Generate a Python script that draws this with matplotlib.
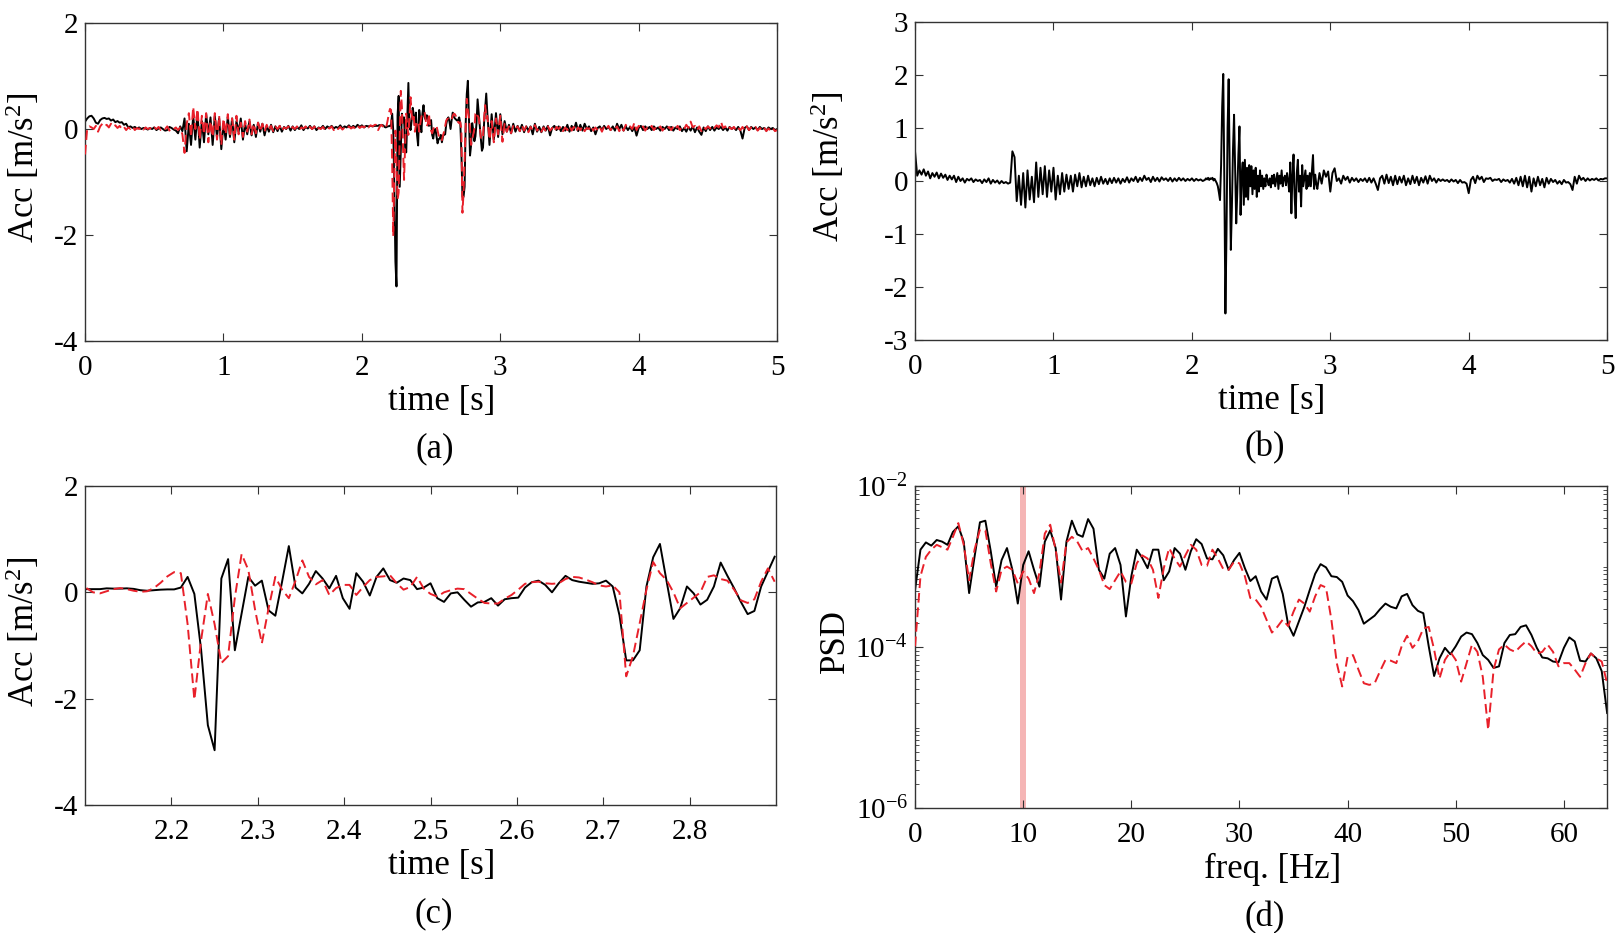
import matplotlib

matplotlib.use("Agg")

import matplotlib.pyplot as plt
import numpy as np
from matplotlib.ticker import FixedLocator, LogLocator, NullFormatter

FS_COARSE = 64
FS_FINE = 128
WIN_START = 269  # first 128 Hz sample shown in panel (c)
POST_START = 186  # first 64 Hz sample after the zoom window

# panel (a)/(c): measured (black) vs. reconstructed (red) acceleration, t < 2.1 s
acc_meas_pre = [
    0.14, 0.2, 0.24, 0.25, 0.2, 0.12, 0.1, 0.17, 0.2, 0.21,
    0.19, 0.2, 0.16, 0.18, 0.13, 0.15, 0.12, 0.13, 0.08, 0.1,
    0.03, 0.05, 0.02, 0.04, 0.01, 0.03, 0.0, 0.02, 0.01, -0.01,
    0.02, 0.0, 0.03, -0.02, 0.01, 0.03, 0.0, -0.03, -0.02, 0.04,
    0.02, -0.01, -0.03, -0.08, 0.05, -0.04, 0.2, -0.42, 0.1, -0.3,
    0.25, -0.2, 0.3, -0.35, 0.15, -0.25, 0.28, -0.1, 0.22, -0.3,
    0.25, -0.15, 0.2, -0.38, 0.1, -0.2, 0.23, -0.15, 0.2, -0.25,
    0.15, -0.05, 0.2, -0.2, 0.1, -0.1, 0.15, -0.12, 0.08, -0.15,
    0.12, -0.05, 0.1, -0.12, 0.06, -0.05, 0.08, -0.06, 0.05, -0.04,
    0.06, -0.05, 0.04, 0.0, 0.06, -0.03, 0.05, -0.02, 0.04, 0.0,
    0.07, -0.02, 0.04, 0.01, 0.06, 0.0, 0.05, -0.02, 0.03, 0.01,
    0.06, 0.0, 0.05, 0.02, 0.06, 0.01, 0.04, 0.02, 0.07, 0.01,
    0.05, 0.03, 0.07, 0.02, 0.06, 0.03, 0.08, 0.04, 0.07, 0.03,
    0.06, 0.05, 0.06, 0.05, 0.06,
]
acc_rec_pre = [
    -0.48, 0.02, 0.05, 0.03, 0.0, 0.06, -0.05, 0.05, 0.1, 0.05,
    0.08, 0.03, 0.1, 0.04, 0.07, 0.02, 0.06, 0.0, 0.04, -0.02,
    0.03, 0.0, 0.05, -0.02, 0.02, 0.0, 0.04, -0.01, 0.03, 0.0,
    0.02, -0.02, 0.03, 0.0, 0.04, -0.02, 0.02, 0.0, 0.05, -0.03,
    0.02, 0.0, 0.03, -0.02, 0.03, -0.1, -0.45, 0.1, 0.3, -0.15,
    0.42, 0.0, 0.38, -0.2, 0.25, -0.1, 0.3, -0.25, 0.15, -0.15,
    0.3, -0.2, 0.25, -0.3, 0.2, -0.1, 0.28, -0.15, 0.2, -0.2,
    0.25, -0.1, 0.12, -0.15, 0.15, -0.05, 0.18, -0.1, 0.1, -0.08,
    0.12, -0.05, 0.1, -0.05, 0.08, -0.03, 0.06, -0.04, 0.05, 0.0,
    0.06, -0.04, 0.03, 0.01, 0.05, -0.02, 0.04, 0.0, 0.05, -0.03,
    0.03, 0.01, 0.05, -0.02, 0.04, 0.0, 0.05, -0.03, 0.02, 0.0,
    0.04, -0.02, 0.03, 0.01, 0.05, -0.02, 0.03, 0.0, 0.04, -0.01,
    0.03, 0.0, 0.05, 0.01, 0.04, 0.0, 0.06, 0.02, 0.05, 0.03,
    0.08, 0.03, 0.07, 0.05, 0.08,
]

# 2.1 s - 2.9 s at full rate (shared by panels (a) and (c))
acc_meas_win = [
    0.06, 0.06, 0.06, 0.075, 0.07, 0.07, 0.075, 0.065, 0.04, 0.03,
    0.04, 0.05, 0.055, 0.055, 0.09, 0.29, -0.03, -1.08, -2.5, -2.97,
    0.26, 0.625, -1.09, -0.4, 0.29, 0.125, 0.22, -0.34, -0.44, 0.2,
    0.87, 0.09, -0.02, 0.16, 0.4, 0.26, 0.075, 0.31, -0.11, -0.31,
    0.36, 0.2, -0.06, 0.29, 0.45, 0.23, 0.18, 0.26, 0.23, 0.06,
    0.09, 0.17, -0.11, -0.18, -0.02, 0.0, -0.14, -0.27, -0.19, -0.18,
    -0.11, -0.25, -0.13, -0.11, -0.1, 0.09, 0.19, 0.22, 0.14, 0.0,
    0.17, 0.31, 0.23, 0.2, 0.18, 0.16, 0.17, 0.22, 0.11, -0.43,
    -1.28, -1.28, -1.09, 0.11, 0.66, 0.91, 0.2, -0.5, -0.3, 0.11,
    -0.02, -0.23, -0.14, 0.11, 0.56, 0.31, 0.075, -0.18, -0.41, -0.35,
    0.11, 0.39, 0.67,
]
acc_rec_win = [
    0.08, 0.0, -0.02, 0.02, 0.06, 0.08, 0.06, 0.03, 0.01, 0.02,
    0.08, 0.18, 0.3, 0.38, 0.36, -0.6, -2.02, -0.9, -0.03, -0.6,
    -1.33, -1.2, -0.1, 0.72, 0.42, -0.33, -0.96, -0.3, 0.29, 0.05,
    -0.11, 0.22, 0.6, 0.29, 0.15, 0.23, -0.05, 0.08, 0.14, 0.14,
    -0.05, 0.1, 0.23, 0.29, 0.3, 0.32, 0.17, 0.05, 0.1, 0.29,
    0.07, -0.03, -0.08, 0.0, 0.04, 0.07, 0.06, -0.03, -0.12, -0.2,
    -0.21, -0.21, -0.12, -0.05, 0.05, 0.16, 0.19, 0.2, 0.17, 0.16,
    0.17, 0.25, 0.29, 0.28, 0.24, 0.19, 0.13, 0.11, 0.13, 0.0,
    -1.58, -1.2, -0.58, 0.05, 0.57, 0.36, 0.23, 0.0, -0.3, -0.2,
    -0.1, 0.0, 0.29, 0.32, 0.25, 0.22, 0.05, -0.15, -0.2, -0.13,
    0.2, 0.45, 0.2,
]

acc_meas_post = [
    0.3, -0.3, 0.28, -0.2, 0.3, -0.15, 0.28, -0.1, 0.15, -0.05,
    0.08, -0.08, 0.1, -0.05, 0.06, -0.04, 0.08, -0.06, 0.05, -0.03,
    0.05, -0.1, 0.1, -0.05, 0.04, -0.06, 0.05, -0.03, 0.06, -0.12,
    0.02, 0.06, -0.02, 0.05, -0.04, 0.04, -0.03, 0.08, -0.05, 0.06,
    -0.02, 0.12, -0.04, 0.08, -0.03, 0.1, 0.0, 0.05, -0.04, 0.03,
    -0.1, 0.02, 0.05, -0.02, 0.06, 0.0, 0.04, -0.02, 0.05, -0.03,
    0.1, 0.0, 0.08, -0.03, 0.05, -0.02, 0.04, -0.04, 0.03, -0.125,
    0.02, 0.06, -0.02, 0.05, 0.0, 0.04, -0.02, 0.05, 0.0, 0.03,
    -0.03, 0.04, 0.0, 0.05, -0.02, 0.04, -0.03, 0.03, 0.0, 0.05,
    -0.04, 0.02, -0.05, 0.04, -0.03, 0.05, -0.06, 0.03, -0.05, -0.11,
    0.03, -0.04, 0.05, -0.02, 0.04, -0.03, 0.03, 0.0, 0.04, -0.02,
    0.03, -0.03, 0.04, 0.0, 0.03, -0.02, 0.04, -0.03, -0.18, 0.02,
    0.05, -0.02, 0.04, 0.0, 0.03, -0.02, 0.04, 0.0, 0.02, -0.03,
    0.03, 0.0, 0.02, -0.02, 0.0,
]
acc_rec_post = [
    0.25, -0.2, 0.15, -0.25, 0.2, -0.1, 0.25, -0.24, 0.1, -0.05,
    0.05, -0.08, 0.06, 0.0, 0.05, -0.04, 0.07, -0.03, 0.05, -0.06,
    0.04, -0.02, 0.075, -0.03, 0.02, -0.05, 0.03, -0.04, 0.05, -0.03,
    0.02, -0.05, 0.04, 0.0, 0.05, -0.04, 0.03, -0.02, 0.06, -0.03,
    0.04, -0.05, 0.03, -0.02, 0.05, -0.04, 0.02, 0.0, 0.06, -0.03,
    0.03, -0.02, 0.04, -0.05, 0.05, 0.0, 0.06, -0.02, 0.03, 0.0,
    0.05, -0.04, 0.04, -0.03, 0.08, 0.02, 0.05, 0.0, 0.12, -0.02,
    0.06, 0.0, 0.05, -0.03, 0.03, 0.0, 0.06, -0.02, 0.04, 0.0,
    0.05, -0.03, 0.03, 0.0, 0.04, -0.02, 0.05, 0.0, 0.06, -0.02,
    0.04, 0.0, 0.08, 0.02, 0.14, 0.03, 0.06, -0.02, 0.05, -0.04,
    0.04, 0.0, 0.05, 0.01, 0.06, 0.02, 0.07, 0.03, 0.14, 0.02,
    0.05, -0.02, 0.03, 0.0, 0.04, -0.03, 0.02, -0.02, 0.04, -0.03,
    0.05, -0.02, 0.03, 0.0, 0.04, -0.03, 0.02, -0.02, 0.03, -0.04,
    0.01, -0.03, 0.02, -0.04, -0.02,
]

# panel (b): second acceleration record
acc_b_pre = [
    0.55, 0.1, 0.2, 0.12, 0.22, 0.1, 0.18, 0.05, 0.15, 0.08,
    0.16, 0.05, 0.14, 0.06, 0.12, 0.02, 0.1, 0.03, 0.1, -0.02,
    0.08, 0.0, 0.05, -0.03, 0.04, 0.01, 0.05, -0.02, 0.03, 0.0,
    0.02, -0.04, 0.03, -0.02, 0.05, -0.05, 0.02, -0.03, 0.01, -0.05,
    0.0, -0.04, -0.02, -0.05, -0.03, 0.56, 0.45, -0.38, 0.1, -0.45,
    0.15, -0.5, 0.2, -0.35, 0.08, -0.4, 0.35, -0.3, 0.25, -0.25,
    0.28, -0.3, 0.2, -0.2, 0.25, -0.35, 0.1, -0.25, 0.15, -0.2,
    0.12, -0.15, 0.1, -0.2, 0.12, -0.1, 0.15, -0.12, 0.08, -0.1,
    0.1, -0.08, 0.05, -0.1, 0.06, -0.06, 0.08, -0.05, 0.04, -0.06,
    0.05, -0.04, 0.06, -0.03, 0.05, -0.05, 0.04, -0.02, 0.07, -0.03,
    0.05, 0.0, 0.08, -0.02, 0.06, 0.0, 0.1, 0.02, 0.06, -0.02,
    0.08, 0.0, 0.06, -0.01, 0.07, 0.02, 0.05, 0.0, 0.06, -0.01,
    0.05, 0.0, 0.06, 0.01, 0.05, 0.0, 0.04, 0.01, 0.05, 0.0,
    0.04, 0.01, 0.03, 0.0, 0.02,
]
acc_b_win = [
    0.05, 0.03, 0.06, 0.02, 0.05, 0.04, 0.06, 0.01, 0.04, 0.0,
    -0.04, -0.1, -0.22, -0.36, 0.3, 1.4, 2.02, 0.0, -2.5, -1.0,
    1.0, 1.92, 0.2, -1.3, -0.5, 0.6, 1.25, 0.2, -0.8, -0.2,
    0.5, 1.03, -0.64, 0.1, 0.35, -0.45, 0.4, -0.3, 0.25, -0.35,
    0.3, -0.1, 0.28, -0.25, 0.2, -0.15, 0.25, -0.3, 0.1, -0.2,
    0.2, -0.1, 0.1, -0.15, 0.05, -0.1, 0.12, 0.0, -0.08, 0.05,
    -0.12, 0.1, -0.05, 0.12, -0.1, 0.02, 0.15, -0.15, 0.1, -0.05,
    0.2, -0.1, 0.05, 0.1, -0.08, 0.15, 0.0, -0.2, 0.35, -0.61,
    0.1, 0.5, -0.3, -0.7, 0.15, 0.4, -0.2, 0.1, -0.48, 0.3,
    -0.1, 0.05, 0.2, -0.15, 0.1, -0.1, 0.15, -0.1, 0.2, 0.49,
    -0.15, 0.12, -0.05,
]
acc_b_post = [
    -0.15, 0.15, -0.05, 0.2, 0.08, 0.18, -0.2, 0.15, 0.24, 0.0,
    0.05, -0.05, 0.1, 0.02, 0.08, -0.03, 0.06, 0.0, 0.05, -0.02,
    0.04, 0.0, 0.05, -0.02, 0.06, -0.03, 0.05, -0.05, -0.17, 0.05,
    0.1, -0.05, 0.12, -0.04, 0.08, -0.08, 0.1, -0.06, 0.08, -0.03,
    0.1, -0.08, 0.05, -0.06, 0.1, -0.04, 0.08, -0.08, 0.06, -0.03,
    0.09, -0.05, 0.1, 0.0, 0.05, -0.03, 0.04, 0.0, 0.03, 0.0,
    0.02, -0.02, 0.03, -0.01, 0.02, -0.04, 0.02, -0.03, -0.02, -0.05,
    -0.23, 0.02, 0.08, -0.04, 0.1, 0.03, 0.08, -0.02, 0.05, 0.04,
    0.06, 0.0, 0.03, 0.02, 0.04, -0.02, 0.03, 0.0, 0.02, -0.03,
    0.04, -0.05, 0.06, -0.08, 0.08, -0.1, 0.1, -0.12, 0.08, -0.2,
    0.05, -0.1, 0.08, -0.08, 0.04, -0.12, 0.06, -0.05, 0.04, -0.02,
    0.02, -0.05, 0.0, -0.06, 0.02, -0.03, -0.02, -0.06, -0.17, 0.08,
    -0.05, 0.1, 0.02, 0.06, 0.0, 0.05, 0.01, 0.04, 0.02, 0.05,
    0.01, 0.04, 0.03, 0.05, 0.05,
]

# panel (d): PSD, stored as log10 values, 0.5 Hz spacing from 0 to 64 Hz
psd_freq_step = 0.5
psd_meas_log10 = [
    -3.29, -2.79, -2.70, -2.74, -2.67, -2.69, -2.73, -2.57, -2.50, -2.69,
    -3.33, -2.88, -2.45, -2.43, -2.81, -3.25, -2.92, -2.77, -3.04, -3.46,
    -2.98, -2.81, -3.04, -3.25, -2.69, -2.55, -2.77, -3.41, -2.69, -2.43,
    -2.60, -2.63, -2.41, -2.53, -3.04, -3.15, -2.84, -2.77, -2.98, -3.62,
    -3.12, -2.79, -2.89, -3.02, -2.79, -2.79, -3.17, -3.06, -2.77, -2.84,
    -3.04, -2.81, -2.66, -2.72, -2.90, -2.91, -2.78, -2.86, -3.04, -2.92,
    -2.83, -3.02, -3.18, -3.12, -3.31, -3.41, -3.15, -3.12, -3.34, -3.72,
    -3.86, -3.68, -3.50, -3.29, -3.09, -2.97, -3.01, -3.12, -3.13, -3.19,
    -3.36, -3.43, -3.54, -3.71, -3.66, -3.61, -3.53, -3.46, -3.50, -3.52,
    -3.37, -3.34, -3.48, -3.55, -3.58, -3.99, -4.36, -4.14, -4.01, -4.09,
    -3.99, -3.87, -3.82, -3.84, -3.95, -4.10, -4.16, -4.26, -4.24, -3.95,
    -3.85, -3.84, -3.75, -3.73, -3.85, -4.01, -4.13, -4.14, -4.18, -4.19,
    -4.01, -3.88, -3.93, -4.17, -4.18, -4.08, -4.14, -4.30, -4.82,
]
psd_rec_log10 = [
    -3.99, -3.12, -2.88, -2.79, -2.73, -2.76, -2.79, -2.63, -2.46, -2.73,
    -3.17, -2.79, -2.54, -2.55, -2.96, -3.31, -3.04, -3.00, -3.04, -3.21,
    -3.06, -3.15, -3.33, -3.08, -2.59, -2.48, -2.79, -3.20, -2.70, -2.63,
    -2.69, -2.81, -2.77, -2.90, -3.04, -3.23, -3.28, -3.17, -3.06, -3.19,
    -3.21, -2.96, -2.86, -2.90, -3.04, -3.39, -3.02, -2.77, -2.90, -3.00,
    -2.86, -2.73, -2.79, -2.98, -2.99, -2.79, -2.90, -3.03, -3.04, -2.94,
    -2.96, -3.12, -3.39, -3.41, -3.50, -3.66, -3.82, -3.75, -3.66, -3.74,
    -3.56, -3.41, -3.46, -3.56, -3.37, -3.23, -3.26, -3.66, -4.20, -4.49,
    -4.12, -4.10, -4.28, -4.45, -4.47, -4.45, -4.30, -4.16, -4.17, -4.20,
    -3.99, -3.86, -4.01, -3.93, -3.77, -3.75, -4.03, -4.39, -4.16, -4.06,
    -4.16, -4.43, -4.20, -3.97, -4.06, -4.37, -5.03, -4.28, -4.03, -3.97,
    -4.03, -4.06, -3.99, -3.93, -3.99, -4.08, -4.06, -3.97, -4.06, -4.24,
    -4.20, -4.20, -4.28, -4.37, -4.20, -4.08, -4.14, -4.18, -4.45,
]
highlight_freq = (9.72, 10.22)

RED = "#e8202a"
AXIS_COLOR = "#333333"
TICK_SIZE = 21
LABEL_SIZE = 25

plt.rcParams.update(
    {
        "font.family": ["Liberation Serif", "DejaVu Serif"],
        "font.size": TICK_SIZE,
        "axes.labelsize": LABEL_SIZE,
        "mathtext.fontset": "custom",
        "mathtext.rm": "Liberation Serif",
        "mathtext.it": "Liberation Serif:italic",
        "axes.unicode_minus": False,
        "axes.linewidth": 1.0,
        "axes.edgecolor": AXIS_COLOR,
        "xtick.color": AXIS_COLOR,
        "ytick.color": AXIS_COLOR,
        "xtick.labelcolor": "black",
        "ytick.labelcolor": "black",
        "xtick.direction": "in",
        "ytick.direction": "in",
        "xtick.top": True,
        "ytick.right": True,
        "xtick.major.size": 6,
        "ytick.major.size": 6,
        "xtick.minor.size": 3,
        "ytick.minor.size": 3,
        "xtick.major.pad": 10,
        "ytick.major.pad": 5,
    }
)


def _segments(pre, win, post):
    t = np.concatenate(
        [
            np.arange(len(pre)) / FS_COARSE,
            (WIN_START + np.arange(len(win))) / FS_FINE,
            (POST_START + np.arange(len(post))) / FS_COARSE,
        ]
    )
    return t, np.concatenate([pre, win, post])


def _plot_pair(ax, t, meas, rec):
    ax.plot(t, meas, color="black", linewidth=1.4, zorder=2)
    ax.plot(t, rec, color=RED, linewidth=1.4, dashes=(5, 2.5), zorder=3)


def _finish(ax, xlabel, ylabel, caption, ylabel_xy):
    ax.set_xlabel(xlabel)
    ax.xaxis.label.set_verticalalignment("center")
    ax.xaxis.set_label_coords(0.516, -0.19)
    ax.set_ylabel(ylabel)
    ax.yaxis.label.set_verticalalignment("center")
    ax.yaxis.set_label_coords(*ylabel_xy)
    ax.text(0.505, -0.34, caption, transform=ax.transAxes, ha="center", va="center",
            fontsize=LABEL_SIZE)


fig = plt.figure(figsize=(16.17, 9.33), dpi=100)
ax_a = fig.add_axes([0.0526, 0.6345, 0.428, 0.3408])
ax_b = fig.add_axes([0.5659, 0.6356, 0.428, 0.3408])
ax_c = fig.add_axes([0.0526, 0.1372, 0.4273, 0.3419])
ax_d = fig.add_axes([0.5659, 0.1340, 0.428, 0.3450])

acc_label = "Acc [m/s$^2$]"

t_a, meas_a = _segments(acc_meas_pre, acc_meas_win, acc_meas_post)
_, rec_a = _segments(acc_rec_pre, acc_rec_win, acc_rec_post)
_plot_pair(ax_a, t_a, meas_a, rec_a)
ax_a.set_xlim(0, 5)
ax_a.set_ylim(-4, 2)
ax_a.set_yticks([-4, -2, 0, 2])
ax_a.set_xticks(range(6))
_finish(ax_a, "time [s]", acc_label, "(a)", (-0.089, 0.545))

t_b, acc_b = _segments(acc_b_pre, acc_b_win, acc_b_post)
ax_b.plot(t_b, acc_b, color="black", linewidth=1.4)
ax_b.set_xlim(0, 5)
ax_b.set_ylim(-3, 3)
ax_b.set_yticks(range(-3, 4))
ax_b.set_xticks(range(6))
_finish(ax_b, "time [s]", acc_label, "(b)", (-0.125, 0.545))

t_c = (WIN_START + np.arange(len(acc_meas_win))) / FS_FINE
_plot_pair(ax_c, t_c, acc_meas_win, acc_rec_win)
ax_c.set_xlim(2.1, 2.9)
ax_c.set_ylim(-4, 2)
ax_c.set_yticks([-4, -2, 0, 2])
ax_c.set_xticks([2.2, 2.3, 2.4, 2.5, 2.6, 2.7, 2.8])
ax_c.set_xticklabels(["2.2", "2.3", "2.4", "2.5", "2.6", "2.7", "2.8"])
_finish(ax_c, "time [s]", acc_label, "(c)", (-0.089, 0.545))

freq = np.arange(len(psd_meas_log10)) * psd_freq_step
ax_d.axvspan(*highlight_freq, color="#f5b5b5", linewidth=0, zorder=1)
_plot_pair(ax_d, freq, 10.0 ** np.array(psd_meas_log10), 10.0 ** np.array(psd_rec_log10))
ax_d.set_yscale("log")
ax_d.set_xlim(0, 64)
ax_d.set_ylim(1e-6, 1e-2)
ax_d.yaxis.set_major_locator(FixedLocator([1e-6, 1e-4, 1e-2]))
ax_d.yaxis.set_minor_locator(LogLocator(base=10, subs=np.arange(1, 10), numticks=20))
ax_d.yaxis.set_minor_formatter(NullFormatter())
ax_d.set_xticks(range(0, 70, 10))
_finish(ax_d, "freq. [Hz]", "PSD", "(d)", (-0.115, 0.52))

fig.savefig("out.png", dpi=100)
